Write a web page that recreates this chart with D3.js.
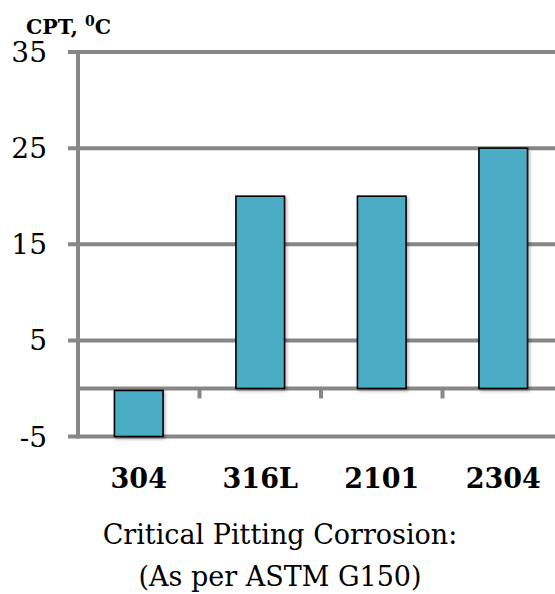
<!DOCTYPE html>
<html><head><meta charset="utf-8">
<script src="https://cdn.jsdelivr.net/npm/d3@7"></script>
<style>body{margin:0;background:#fff}svg{display:block}</style>
</head><body>
<script>
const categories = ["304", "316L", "2101", "2304"];
const values = [-5, 20, 20, 25];
const yTicks = [-5, 5, 15, 25, 35];
const yTitle = "CPT, ";
const xTitle1 = "Critical Pitting Corrosion:";
const xTitle2 = "(As per ASTM G150)";

const W = 555, H = 594;
const svg = d3.select("body").append("svg").attr("width", W).attr("height", H);
const defs = svg.append("defs");
const f = defs.append("filter").attr("id","sh").attr("x","-20%").attr("y","-20%").attr("width","150%").attr("height","150%");
f.append("feDropShadow").attr("dx",1.5).attr("dy",2).attr("stdDeviation",1.5).attr("flood-color","#000").attr("flood-opacity",0.3);

const x0 = 78, x1 = 564;
const x = d3.scaleBand().domain(categories).range([x0, x1]).paddingInner(0.6).paddingOuter(0.3);
const y = d3.scaleLinear().domain([-5, 35]).range([436.5, 52]);
const grid = "#878787";
const serif = "'DejaVu Serif', serif";

// gridlines
svg.append("g").selectAll("line").data(yTicks).join("line")
  .attr("x1", x0 - 10).attr("x2", W).attr("y1", d => y(d)).attr("y2", d => y(d))
  .attr("stroke", grid).attr("stroke-width", 4);

// y axis line
svg.append("line").attr("x1", x0).attr("x2", x0).attr("y1", y(35) - 2).attr("y2", y(-5) + 2)
  .attr("stroke", grid).attr("stroke-width", 4);

// zero line with category ticks
svg.append("line").attr("x1", x0).attr("x2", W).attr("y1", y(0)).attr("y2", y(0))
  .attr("stroke", grid).attr("stroke-width", 4);
const bounds = categories.slice(1).map(c => x(c) - x.step() * x.paddingInner() / 2);
svg.append("g").selectAll("line").data(bounds).join("line")
  .attr("x1", d => d).attr("x2", d => d).attr("y1", y(0)).attr("y2", y(0) + 10)
  .attr("stroke", grid).attr("stroke-width", 4);

// bars
svg.append("g").selectAll("rect").data(values).join("rect")
  .attr("x", (d, i) => x(categories[i]))
  .attr("width", x.bandwidth())
  .attr("y", d => d >= 0 ? y(d) : y(0) + 2)
  .attr("height", d => d >= 0 ? y(0) - y(d) : y(d) - y(0) - 2)
  .attr("fill", "#4BACC6").attr("stroke", "#000").attr("stroke-width", 1.6)
  .attr("filter", "url(#sh)");

// y tick labels
svg.append("g").selectAll("text").data(yTicks).join("text")
  .attr("x", 47).attr("y", d => y(d) + 10)
  .attr("text-anchor", "end").attr("font-family", serif).attr("font-size", 28)
  .attr("fill", "#000").text(d => d);

// category labels
svg.append("g").selectAll("text").data(categories).join("text")
  .attr("x", d => x(d) + x.bandwidth() / 2).attr("y", 488)
  .attr("text-anchor", "middle").attr("font-family", serif).attr("font-weight", "bold")
  .attr("font-size", 27).attr("fill", "#000").text(d => d);

// y title
const yt = svg.append("text").attr("x", 26).attr("y", 34).attr("font-family", serif)
  .attr("font-weight", "bold").attr("font-size", 20.5).attr("fill", "#000");
yt.append("tspan").text(yTitle);
yt.append("tspan").attr("dy", -8).attr("font-size", 14).text("0");
yt.append("tspan").attr("dy", 8).text("C");

// x titles
svg.append("text").attr("x", 280).attr("y", 544).attr("text-anchor", "middle")
  .attr("font-family", serif).attr("font-size", 27).attr("fill", "#000").text(xTitle1);
svg.append("text").attr("x", 280).attr("y", 586).attr("text-anchor", "middle")
  .attr("font-family", serif).attr("font-size", 27).attr("fill", "#000").text(xTitle2);
</script>
</body></html>
